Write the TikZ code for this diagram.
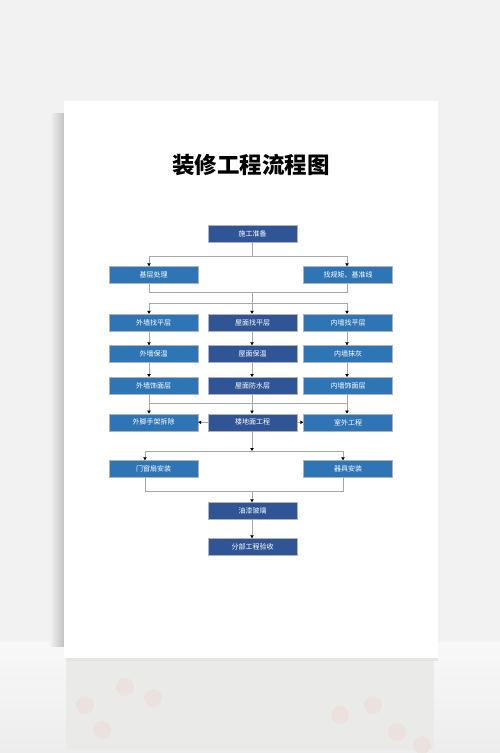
\documentclass[tikz,border=0pt]{standalone}
\usepackage{fontspec}
\newfontfamily\cjk{Noto Sans CJK SC}
\usetikzlibrary{arrows.meta}
\definecolor{sideblue}{HTML}{2E75B6}
\definecolor{midblue}{HTML}{2F5597}
\definecolor{linegray}{HTML}{A6A6A6}
\definecolor{wallgray}{HTML}{F2F2F2}
\definecolor{floorgray}{HTML}{F8F8F8}
\definecolor{mirror}{HTML}{EAEBE8}
\begin{document}
\begin{tikzpicture}[x=1pt,y=-1pt,
    link/.style={draw=linegray,line width=0.8pt},
    flow/.style={link,-{Triangle[length=3pt,width=3.4pt,color=black]}}]
  \useasboundingbox (0,0) rectangle (500,753);
  % background, paper and reflection
  \fill[wallgray] (0,0) rectangle (500,642);
  \shade[top color=floorgray,bottom color=black!7] (0,642) rectangle (500,753);
  \shade[left color=wallgray,right color=black!24] (50,113) rectangle (64,646);
  \fill[black!10] (66,658) rectangle (438,661);
  \fill[mirror] (66,661) rectangle (434,750);
  \foreach \x/\y in {125/687,153/698,85/705,102/730,340/715,373/705,397/732,422/745}
    \fill[red!4!mirror] (\x,\y) circle (9pt);
  \fill[white] (64,101) rectangle (438,658);

  \node[font=\cjk\fontsize{22.5}{24}\selectfont\bfseries] (title) at (251,165) {装修工程流程图};

  % columns of the connectors
  \coordinate (colL) at (149,0);
  \coordinate (colM) at (252,0);
  \coordinate (colR) at (347,0);
  \coordinate (colLL) at (145,0);
  \coordinate (colRR) at (343,0);

  \begin{scope}[every node/.style={draw=black!30,line width=0.4pt,minimum width=89pt,minimum height=17pt,inner sep=0pt,text=white,font=\cjk\fontsize{7}{8}\selectfont}]
    \node[fill=midblue] (prep) at (252.5,233.5) {施工准备};
    \node[fill=sideblue] (base) at (153.5,275) {基层处理};
    \node[fill=sideblue] (line) at (348,275) {找规矩、基准线};

    \node[fill=sideblue] (owlevel) at (153.5,322.5) {外墙找平层};
    \node[fill=midblue] (rflevel) at (252.5,322.5) {屋面找平层};
    \node[fill=sideblue] (iwlevel) at (348,322.5) {内墙找平层};
    \node[fill=sideblue] (owins) at (153.5,354) {外墙保温};
    \node[fill=midblue] (rfins) at (252.5,354) {屋面保温};
    \node[fill=sideblue] (iwplas) at (348,354) {内墙抹灰};
    \node[fill=sideblue] (owdeco) at (153.5,385.7) {外墙饰面层};
    \node[fill=midblue] (rfwater) at (252.5,385.7) {屋面防水层};
    \node[fill=sideblue] (iwdeco) at (348,385.7) {内墙饰面层};

    \node[fill=sideblue] (scaf) at (153.5,422.3) {外脚手架拆除};
    \node[fill=midblue] (floor) at (252.5,422.3) {楼地面工程};
    \node[fill=sideblue] (outdoor) at (348,422.3) {室外工程};

    \node[fill=sideblue] (door) at (153.5,469) {门窗扇安装};
    \node[fill=sideblue] (fixture) at (348,469) {器具安装};
    \node[fill=midblue] (paint) at (252.5,511) {油漆玻璃};
    \node[fill=midblue] (check) at (252.5,547) {分部工程验收};
  \end{scope}

  \coordinate (j1) at (252,256);
  \coordinate (j2) at (252,292.7);
  \coordinate (j3) at (252,303);
  \coordinate (j4) at (252,403.3);
  \coordinate (j5) at (252,451);
  \coordinate (j6) at (252,491.7);

  \draw[link] (prep.south -| colM) -- (j1);
  \draw[flow] (j1) -| (base.north -| colL);
  \draw[flow] (j1) -| (line.north -| colR);

  \draw[link] (base.south -| colL) |- (j2) -| (line.south -| colR);
  \draw[link] (j2) -- (j3);
  \draw[flow] (j3) -| (owlevel.north -| colL);
  \draw[flow] (j3) -| (iwlevel.north -| colR);
  \draw[flow] (j3) -- (rflevel.north -| colM);

  \foreach \a/\b/\c in {owlevel/owins/colL,owins/owdeco/colL,owdeco/scaf/colL,
      rflevel/rfins/colM,rfins/rfwater/colM,rfwater/floor/colM,
      iwlevel/iwplas/colR,iwplas/iwdeco/colR,iwdeco/outdoor/colR}
    \draw[flow] (\a.south -| \c) -- (\b.north -| \c);
  \draw[link] (j4 -| colL) -- (j4 -| colR);

  \draw[flow] (floor.west) -- (scaf.east);
  \draw[flow] (floor.east) -- (outdoor.west);

  \draw[flow] (floor.south -| colM) -- (j5);
  \draw[flow] (j5) -| (door.north -| colLL);
  \draw[flow] (j5) -| (fixture.north -| colRR);

  \draw[link] (door.south -| colLL) |- (j6) -| (fixture.south -| colRR);
  \draw[flow] (j6) -- (paint.north -| colM);
  \draw[flow] (paint.south -| colM) -- (check.north -| colM);
\end{tikzpicture}
\end{document}
